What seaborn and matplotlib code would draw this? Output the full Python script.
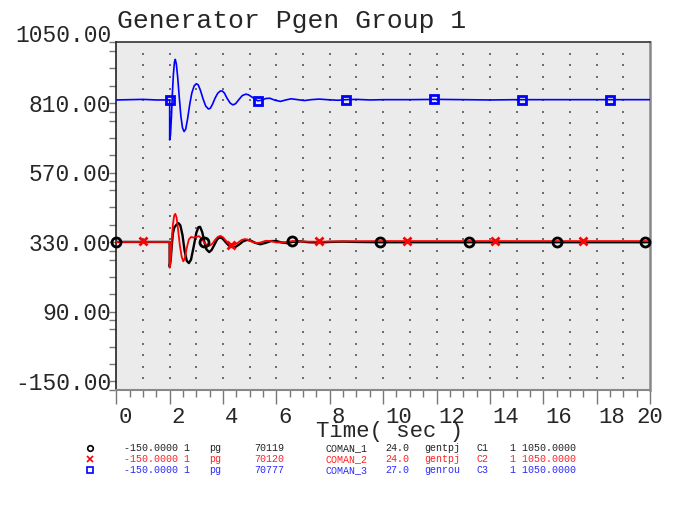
import numpy as np
import pandas as pd
import matplotlib
matplotlib.use("Agg")
import matplotlib.pyplot as plt
import matplotlib.transforms as mtransforms
from matplotlib.ticker import MultipleLocator
import seaborn as sns

# ------------------ data ------------------
blue_t = [0, 0.5, 1.0, 1.5, 1.98, 2.0, 2.0, 2.03, 2.07, 2.1, 2.14, 2.18, 2.21, 2.25, 2.3, 2.36,
          2.42, 2.48, 2.54, 2.6, 2.67, 2.75, 2.83, 2.92, 3.0, 3.07, 3.15, 3.25, 3.35, 3.45,
          3.52, 3.6, 3.7, 3.8, 3.9, 3.97, 4.05, 4.15, 4.27, 4.37, 4.47, 4.6, 4.72, 4.85, 4.95,
          5.1, 5.3, 5.45, 5.6, 5.75, 5.95, 6.15, 6.35, 6.55, 6.8, 7.05, 7.3, 7.6, 7.9, 8.3,
          8.6, 9.0, 9.5, 10, 11, 12, 13, 14, 15, 16, 17, 18, 20]
blue_v = [851, 852, 853, 851, 851, 851, 713, 730, 800, 870, 940, 982, 991, 975, 930, 860,
          795, 755, 742, 750, 785, 835, 875, 900, 907, 903, 885, 855, 830, 820,
          822, 835, 857, 874, 882, 882, 875, 857, 840, 834, 838, 853, 866, 871, 869,
          860, 848, 850, 856, 857, 850, 846, 851, 855, 852, 849, 852, 854, 852, 850,
          852, 853, 851, 852, 852, 853, 852, 851, 852, 852, 852, 852, 852]

black_t = [0, 1, 1.98, 2.0, 2.0, 2.04, 2.08, 2.12, 2.17, 2.25, 2.33, 2.4, 2.48, 2.56, 2.64,
           2.72, 2.8, 2.9, 3.0, 3.08, 3.14, 3.22, 3.3, 3.38, 3.48, 3.57, 3.68, 3.78, 3.88,
           3.98, 4.1, 4.22, 4.35, 4.47, 4.6, 4.75, 4.9, 5.05, 5.2, 5.4, 5.6, 5.8, 6.0, 6.2,
           6.4, 6.6, 6.9, 7.2, 7.6, 8.0, 8.5, 9.0, 9.9, 11, 13, 15, 17, 20]
black_v = [361, 361, 361, 361, 276, 300, 350, 390, 410, 420, 426, 418, 385, 330, 296,
           288, 300, 345, 393, 412, 413, 395, 361, 335, 326, 333, 352, 370, 377,
           373, 360, 348, 343, 344, 352, 363, 368, 365, 358, 353, 358, 364, 364, 359,
           357, 361, 363, 360, 359, 361, 362, 361, 360, 360, 360, 360, 360, 360]

red_t = [0, 1.0, 1.98, 2.0, 2.0, 2.04, 2.08, 2.12, 2.17, 2.21, 2.26, 2.32, 2.38, 2.45, 2.51,
         2.57, 2.64, 2.72, 2.8, 2.9, 3.0, 3.1, 3.2, 3.3, 3.4, 3.5, 3.6, 3.7, 3.8, 3.9, 4.0,
         4.1, 4.2, 4.3, 4.42, 4.55, 4.7, 4.82, 4.95, 5.1, 5.25, 5.4, 5.6, 5.8, 6.0, 6.3,
         6.6, 7.0, 7.6, 8.5, 10, 12, 14, 17, 20]
red_v = [361, 361, 361, 361, 272, 300, 370, 420, 452, 458, 445, 400, 350, 310, 294,
         305, 340, 370, 378, 376, 378, 381, 372, 358, 350, 348, 355, 368, 378, 382, 377,
         366, 357, 352, 351, 358, 368, 371, 368, 361, 357, 359, 365, 364, 359, 360,
         364, 362, 362, 363, 364, 364, 364, 364, 364]

black_mk_t = [0, 3.3, 6.6, 9.9, 13.2, 16.5, 19.8]
black_mk_v = [361, 361, 363, 360, 360, 360, 360]
red_mk_t = [1.0, 4.3, 7.6, 10.9, 14.2, 17.5]
red_mk_v = [363, 352, 363, 364, 364, 364]
blue_mk_t = [2.0, 5.3, 8.6, 11.9, 15.2, 18.5]
blue_mk_v = [851, 848, 852, 853, 852, 852]

y_ticks = [-150, 90, 330, 570, 810, 1050]
x_ticks = list(range(0, 21, 2))

legend_rows = [
    ["-150.0000 1", "pg", "70119", "COMAN_1", "24.0", "gentpj", "C1", "1 1050.0000"],
    ["-150.0000 1", "pg", "70120", "COMAN_2", "24.0", "gentpj", "C2", "1 1050.0000"],
    ["-150.0000 1", "pg", "70777", "COMAN_3", "27.0", "genrou", "C3", "1 1050.0000"],
]

# ------------------ plot ------------------
sns.set_style("white")
plt.rcParams['font.family'] = ['Liberation Mono', 'DejaVu Sans Mono']

fig = plt.figure(figsize=(6.74, 5.13), dpi=100)
ax = fig.add_axes([116.3 / 674, 1 - 390 / 513, (650 - 116.3) / 674, (390 - 42.3) / 513])
ax.set_facecolor('#ebebeb')

# dotted grid (dots at grid crossings)
gx, gy = np.meshgrid(np.arange(1, 20), np.arange(-110, 1011, 40))
ax.plot(gx.ravel(), gy.ravel(), ls='none', marker='s', ms=1.9, mew=0, color='#6e6e6e', zorder=1)

sns.lineplot(x=black_t, y=black_v, sort=False, estimator=None, color='black', lw=1.7, ax=ax, zorder=3)
sns.lineplot(x=red_t, y=red_v, sort=False, estimator=None, color='#ff0000', lw=1.3, ax=ax, zorder=4)
sns.lineplot(x=blue_t, y=blue_v, sort=False, estimator=None, color='#0000ff', lw=1.2, ax=ax, zorder=4)

ax.plot(black_mk_t, black_mk_v, ls='none', marker='o', ms=6.5, mfc='none', mec='black', mew=2, clip_on=False, zorder=6)
ax.plot(red_mk_t, red_mk_v, ls='none', marker='x', ms=5.5, mec='#ff0000', mew=2, clip_on=False, zorder=6)
ax.plot(blue_mk_t, blue_mk_v, ls='none', marker='s', ms=6, mfc='none', mec='#0000ff', mew=2, clip_on=False, zorder=6)

ax.set_xlim(0, 20)
ax.set_ylim(-150, 1050)
ax.set_xticks(x_ticks)
ax.set_xticklabels([str(v) for v in x_ticks])
ax.xaxis.set_minor_locator(MultipleLocator(0.5))
ax.set_yticks(y_ticks)
ax.set_yticklabels(['%.2f' % v for v in y_ticks])
ax.yaxis.set_minor_locator(MultipleLocator(60))
ax.set_xlabel('')
ax.set_ylabel('')

ax.tick_params(axis='x', which='both', bottom=True, top=False)
ax.tick_params(axis='y', which='both', left=True, right=False)
ax.tick_params(axis='x', which='major', direction='out', length=10, width=1, color='#777777', pad=2.5, labelsize=16)
ax.tick_params(axis='x', which='minor', direction='out', length=5, width=1, color='#777777')
ax.tick_params(axis='y', which='both', direction='out', length=5, width=1, color='#777777', pad=-1.5, labelsize=16.5)

for lab in ax.get_yticklabels():
    lab.set_va('baseline')
shift = mtransforms.ScaledTranslation(2 / 100, 0, fig.dpi_scale_trans)
xlabs = ax.get_xticklabels()
for lab in xlabs[:-1]:
    lab.set_ha('left')
    lab.set_transform(lab.get_transform() + shift)

for side, col, lw in [('left', '#222222', 1.2), ('top', '#333333', 1.2),
                      ('right', '#888888', 1.8), ('bottom', '#888888', 1.5)]:
    ax.spines[side].set_visible(True)
    ax.spines[side].set_color(col)
    ax.spines[side].set_linewidth(lw)

fig.text(117 / 674, 1 - 21 / 513, 'Generator Pgen Group 1', fontsize=19, ha='left', va='center')
fig.text(390 / 674, 1 - 432 / 513, 'Time( sec )', fontsize=16, ha='center', va='center')

# legend block under the axis
col_x = [123.5, 209, 254, 326, 385, 424, 477, 510]
row_y = [451, 462, 473]
row_col = ['#222222', '#ff2020', '#2a2aff']
mk_style = [dict(marker='o', mfc='none', mec='black'),
            dict(marker='x', mec='#ff0000'),
            dict(marker='s', mfc='none', mec='#0000ff')]
for row, y, c, mk in zip(legend_rows, row_y, row_col, mk_style):
    fig.lines.append(plt.Line2D([90 / 674], [1 - (y - 3) / 513], transform=fig.transFigure,
                                ls='none', ms=4, mew=1.2, **mk))
    for txt, x in zip(row, col_x):
        fig.text(x / 674, 1 - y / 513, txt, fontsize=7.2, color=c, ha='left', va='baseline')

fig.savefig('out.png', dpi=100)
